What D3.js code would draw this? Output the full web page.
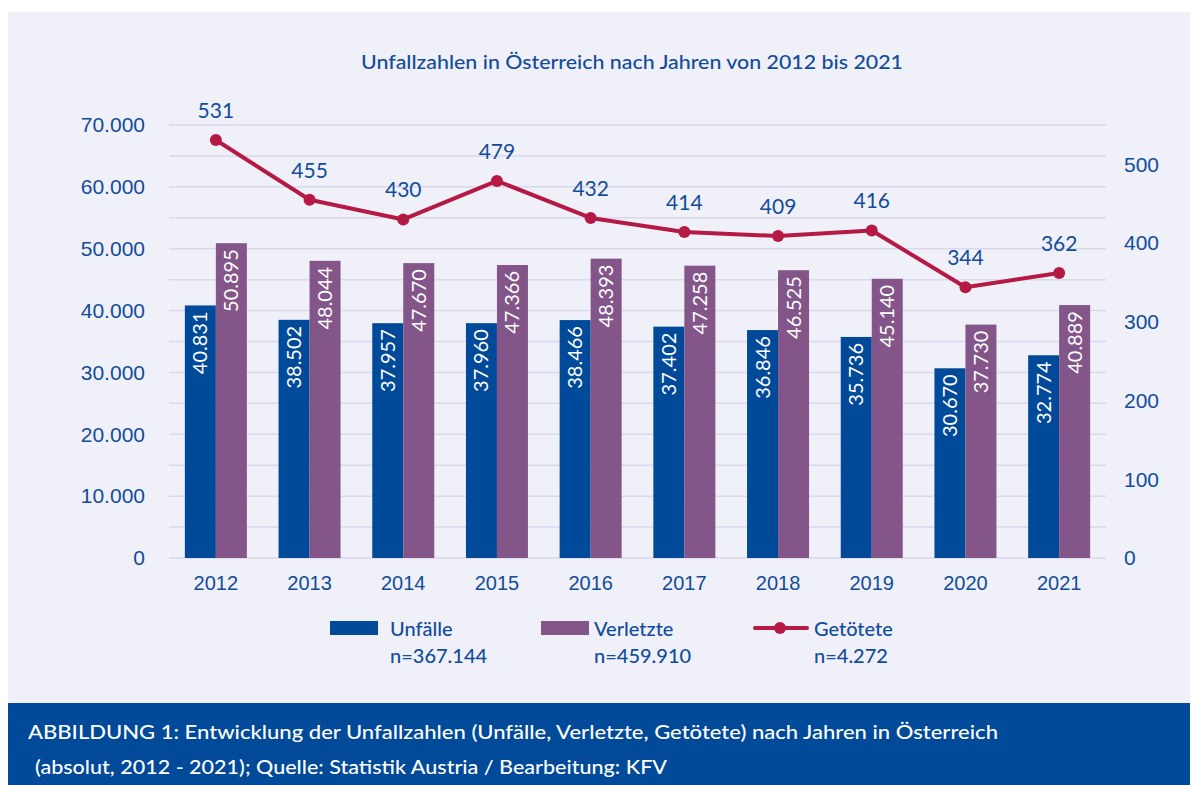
<!DOCTYPE html>
<html>
<meta charset="utf-8">
<head>
<script src="https://cdnjs.cloudflare.com/ajax/libs/d3/7.8.5/d3.min.js"></script>
</head>
<style>
body { margin: 0; background: #fff; font-family: Lato, sans-serif; }
.grid line { stroke: #d9d9ee; stroke-width: 1.5px; }
.axis text { fill: #124c9b; font-size: 21px; }
.axis .domain, .axis .tick line { display: none; }
</style>
<body>
<svg id="canvas" width="1198" height="785"></svg>
<script>
// values
var years = ["2012", "2013", "2014", "2015", "2016", "2017", "2018", "2019", "2020", "2021"];
var unfaelle = [40831, 38502, 37957, 37960, 38466, 37402, 36846, 35736, 30670, 32774];
var verletzte = [50895, 48044, 47670, 47366, 48393, 47258, 46525, 45140, 37730, 40889];
var getoetete = [531, 455, 430, 479, 432, 414, 409, 416, 344, 362];
var leftTicks = [0, 10000, 20000, 30000, 40000, 50000, 60000, 70000];
var rightTicks = [0, 100, 200, 300, 400, 500];
var legendItems = [
  {name: "Unfälle", n: "n=367.144", type: "bar", color: "#004a99"},
  {name: "Verletzte", n: "n=459.910", type: "bar", color: "#835589"},
  {name: "Getötete", n: "n=4.272", type: "line", color: "#b51a44"}
];

const blue = "#004a99", purple = "#835589", red = "#b51a44", textBlue = "#124c9b";
const de = d3.formatLocale({decimal: ",", thousands: ".", grouping: [3], currency: ["", "€"]});
const fmt = de.format(",d");

const svg = d3.select("#canvas");
// light background panel
svg.append("rect").attr("x", 8).attr("y", 12).attr("width", 1182).attr("height", 700).attr("fill", "#eff0f8");
// caption banner
svg.append("rect").attr("x", 8).attr("y", 703).attr("width", 1182).attr("height", 82).attr("fill", "#004a99");

const plotTop = 125, plotBottom = 558, plotLeft = 169, plotRight = 1106;

const x = d3.scaleBand().domain(years).range([plotLeft, plotRight]);
const yL = d3.scaleLinear().domain([0, 70000]).range([plotBottom, plotTop]);
const yR = d3.scaleLinear().domain([0, 550]).range([plotBottom, plotTop]);

// gridlines every 5000
svg.append("g").classed("grid", true)
   .selectAll("line").data(d3.range(0, 70001, 5000)).join("line")
   .attr("x1", plotLeft).attr("x2", plotRight)
   .attr("y1", d => yL(d)).attr("y2", d => yL(d));

// axes
svg.append("g").classed("axis", true)
   .attr("transform", `translate(${plotLeft},0)`)
   .call(d3.axisLeft(yL).tickValues(leftTicks).tickFormat(fmt).tickSize(0).tickPadding(24));
svg.append("g").classed("axis", true)
   .attr("transform", `translate(${plotRight},0)`)
   .call(d3.axisRight(yR).tickValues(rightTicks).tickSize(0).tickPadding(18));
svg.append("g").classed("axis", true)
   .attr("transform", `translate(0,${plotBottom})`)
   .call(d3.axisBottom(x).tickSize(0).tickPadding(18))
   .selectAll("text").style("font-size", "20px");

// bars
const barW = 31;
const series = [{vals: unfaelle, color: blue, off: -barW}, {vals: verletzte, color: purple, off: 0}];
series.forEach(s => {
  const g = svg.append("g");
  g.selectAll("rect").data(years).join("rect")
   .attr("x", d => x(d) + x.bandwidth() / 2 + s.off)
   .attr("width", barW)
   .attr("y", (d, i) => yL(s.vals[i]))
   .attr("height", (d, i) => plotBottom - yL(s.vals[i]))
   .attr("fill", s.color);
  g.selectAll("text").data(years).join("text")
   .attr("transform", (d, i) => `translate(${x(d) + x.bandwidth() / 2 + s.off + barW / 2 + 7},${yL(s.vals[i]) + 6}) rotate(-90)`)
   .attr("text-anchor", "end")
   .attr("fill", "#fff")
   .style("font-size", "20px")
   .text((d, i) => fmt(s.vals[i]));
});

// line
const cx = d => x(d) + x.bandwidth() / 2;
const line = d3.line().x((d, i) => cx(years[i])).y(d => yR(d));
svg.append("path").datum(getoetete).attr("d", line)
   .attr("fill", "none").attr("stroke", red).attr("stroke-width", 4).attr("stroke-linejoin", "round");
svg.append("g").selectAll("circle").data(getoetete).join("circle")
   .attr("cx", (d, i) => cx(years[i])).attr("cy", d => yR(d)).attr("r", 6).attr("fill", red);
svg.append("g").selectAll("text").data(getoetete).join("text")
   .attr("x", (d, i) => cx(years[i])).attr("y", d => yR(d) - 22)
   .attr("text-anchor", "middle").attr("fill", textBlue).style("font-size", "21px")
   .text(d => d);

// title
svg.append("text").attr("x", 632).attr("y", 69).attr("text-anchor", "middle")
   .attr("fill", textBlue).style("font-size", "20px").style("font-weight", 500)
   .attr("textLength", 542).attr("lengthAdjust", "spacingAndGlyphs")
   .text("Unfallzahlen in Österreich nach Jahren von 2012 bis 2021");

// legend
const legX = [330, 541, 755];
const legTextX = [60, 53, 59];
const leg = svg.append("g").selectAll("g").data(legendItems).join("g")
   .attr("transform", (d, i) => `translate(${legX[i]},621)`);
leg.filter(d => d.type === "bar").append("rect")
   .attr("width", 48).attr("height", 14).attr("fill", d => d.color);
leg.filter(d => d.type === "line").append("line")
   .attr("x1", 0).attr("x2", 52).attr("y1", 7).attr("y2", 7)
   .attr("stroke", d => d.color).attr("stroke-width", 4).attr("stroke-linecap", "round");
leg.filter(d => d.type === "line").append("circle")
   .attr("cx", 25).attr("cy", 7).attr("r", 6).attr("fill", d => d.color);
leg.append("text").attr("x", (d, i) => legTextX[i]).attr("y", 15)
   .attr("fill", textBlue).style("font-size", "20px").style("font-weight", 500).text(d => d.name);
leg.append("text").attr("x", (d, i) => legTextX[i]).attr("y", 42)
   .attr("fill", textBlue).style("font-size", "20px").style("font-weight", 500).text(d => d.n);

// caption
const cap = svg.append("g").attr("fill", "#fff").style("font-size", "19px").style("font-weight", 500);
cap.append("text").attr("x", 28).attr("y", 739).attr("textLength", 970).attr("lengthAdjust", "spacingAndGlyphs")
   .text("ABBILDUNG 1: Entwicklung der Unfallzahlen (Unfälle, Verletzte, Getötete) nach Jahren in Österreich");
cap.append("text").attr("x", 35).attr("y", 774).attr("textLength", 632).attr("lengthAdjust", "spacingAndGlyphs")
   .text("(absolut, 2012 - 2021); Quelle: Statistik Austria / Bearbeitung: KFV");
</script>
</body>
</html>
